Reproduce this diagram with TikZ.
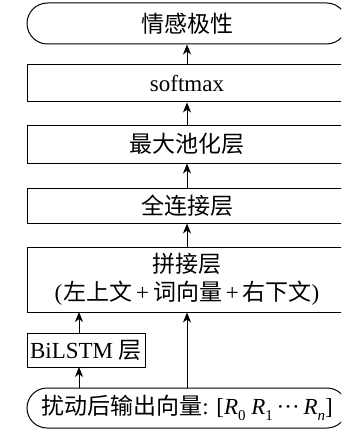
\documentclass[tikz,border=0pt]{standalone}
\usepackage{fontspec}
\setmainfont{Liberation Serif}
\newfontfamily\cjk{Noto Sans CJK SC}
\usetikzlibrary{shapes.misc,arrows.meta}
\newcommand{\Rs}[1]{{\itshape R}\raisebox{-0.28em}{\fontsize{15}{15}\selectfont #1}}
\begin{document}
\begin{tikzpicture}[x=1pt,y=-1pt,
  box/.style={draw,line width=1pt,minimum width=320pt,inner sep=0pt,align=center,
    font=\fontsize{23}{31}\selectfont},
  pill/.style={box,rounded rectangle},
  arr/.style={line width=1pt,-{Stealth[length=10pt,width=8pt,inset=3pt]}}]
\useasboundingbox (0,0) rectangle (341,433);
\clip (0,0) rectangle (341,433);
\node[pill,minimum height=41pt] (out) at (187,23.5) {{\cjk 情感极性}};
\node[box,minimum height=37pt] (soft) at (187,83.5) {softmax};
\node[box,minimum height=38pt] (pool) at (187,144) {{\cjk 最大池化层}};
\node[box,minimum height=35pt] (fc) at (187,205.5) {{\cjk 全连接层}};
\node[box,minimum height=65pt] (cat) at (187,279.5) {{\cjk 拼接层}\\[-3pt](\hspace{1pt}{\cjk 左上文}\,+\,{\cjk 词向量}\,+\,{\cjk 右下文})};
\node[box,minimum width=118pt,minimum height=34pt] (bil) at (86,350) {BiLSTM {\cjk 层}};
\node[pill,minimum height=40pt] (in) at (187,408) {{\cjk 扰动后输出向量}: [\Rs{0} \Rs{1}\,···\,\Rs{\itshape n}]};
\coordinate (a1) at (79,388);
\coordinate (a2) at (79,367);
\coordinate (a3) at (79,333);
\coordinate (a4) at (79,312);
\draw[arr] (in.north) -- (cat.south);
\draw[arr] (a1) -- (a2);
\draw[arr] (a3) -- (a4);
\draw[arr] (fc.north) -- (pool.south);
\draw[arr] (cat.north) -- (fc.south);
\draw[arr] (pool.north) -- (soft.south);
\draw[arr] (soft.north) -- (out.south);
\end{tikzpicture}
\end{document}
